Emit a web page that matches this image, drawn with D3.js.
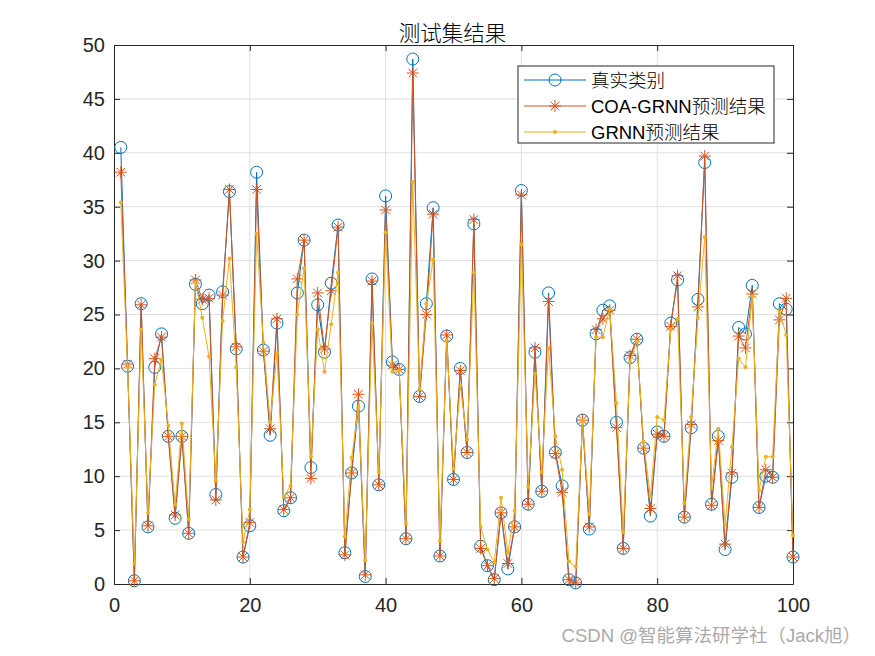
<!DOCTYPE html>
<html>
<head>
<meta charset="utf-8">
<script src="https://cdn.jsdelivr.net/npm/d3@7"></script>
<style>
  body { margin: 0; background: #fff; }
  text { font-family: Arial, "Liberation Sans", "Noto Sans CJK SC", sans-serif; }
</style>
</head>
<body>
<div id="chart"></div>
<script>
// test set results, sample index 1..100
var trueVals = [40.5,20.2,0.3,26.0,5.3,20.1,23.2,13.7,6.1,13.7,
  4.7,27.8,26.0,26.8,8.3,27.1,36.4,21.8,2.5,5.4,
  38.2,21.7,13.8,24.2,6.8,8.0,27.0,31.9,10.8,25.9,
  21.5,27.9,33.3,2.9,10.3,16.5,0.7,28.3,9.2,36.0,
  20.6,19.9,4.2,48.7,17.4,26.0,34.9,2.6,23.0,9.7,
  20.0,12.2,33.4,3.5,1.7,0.4,6.6,1.4,5.3,36.5,
  7.4,21.5,8.6,27.0,12.2,9.1,0.4,0.1,15.2,5.1,
  23.2,25.4,25.8,15.0,3.3,21.0,22.7,12.6,6.3,14.1,
  13.7,24.2,28.2,6.2,14.5,26.4,39.1,7.4,13.7,3.2,
  9.9,23.8,23.2,27.7,7.1,10.0,9.9,26.0,25.5,2.5];

var coaVals = [38.2,20.4,0.3,25.9,5.4,20.9,22.9,13.7,6.4,13.7,
  4.7,28.2,26.4,26.5,7.8,26.8,36.6,22.0,2.5,5.7,
  36.6,21.6,14.4,24.6,6.9,8.0,28.3,31.9,9.8,27.0,
  21.8,27.2,33.1,2.7,10.3,17.6,0.85,28.1,9.2,34.7,
  20.3,19.9,4.2,47.4,17.4,25.0,34.3,2.6,23.1,9.7,
  19.8,12.2,33.8,3.3,1.7,0.5,6.6,1.9,5.3,36.1,
  7.4,21.9,8.6,26.2,12.1,8.5,0.4,0.1,15.2,5.3,
  23.6,24.6,25.4,14.5,3.3,21.2,22.7,12.6,7.0,13.9,
  13.7,23.9,28.6,6.2,14.8,25.7,39.7,7.3,13.3,3.7,
  10.3,23.0,21.9,26.9,7.1,10.6,9.9,24.5,26.5,2.5];

var grnnVals = [35.4,20.1,1.9,23.6,6.6,18.5,20.8,14.7,7.4,14.9,
  6.0,28.0,24.7,21.1,9.6,24.4,30.2,20.1,3.9,6.9,
  32.5,22.4,15.0,21.4,8.1,9.1,25.0,29.3,11.8,23.6,
  19.7,24.1,28.9,4.4,11.7,16.4,2.2,24.2,10.4,32.6,
  19.7,19.8,5.6,37.3,18.1,26.0,30.1,4.0,22.6,10.7,
  18.4,13.4,28.9,5.3,3.2,2.0,8.0,2.9,6.8,31.5,
  9.0,19.5,10.4,21.9,13.7,10.6,2.1,1.6,15.2,6.5,
  22.9,22.9,25.5,16.8,4.8,20.6,22.5,13.2,8.1,15.5,
  15.2,23.6,24.6,7.5,15.5,24.7,32.2,8.9,14.4,5.5,
  12.7,20.9,20.1,26.7,8.7,11.8,11.8,25.3,23.1,4.5];

var xTicks = [0, 20, 40, 60, 80, 100];
var yTicks = [0, 5, 10, 15, 20, 25, 30, 35, 40, 45, 50];
var seriesNames = ["真实类别", "COA-GRNN预测结果", "GRNN预测结果"];
var seriesColors = ["#0072BD", "#D95319", "#EDB120"];

var W = 875, H = 656;
var margin = {top: 45, right: 82, bottom: 72, left: 114},
    width = W - margin.left - margin.right,
    height = H - margin.top - margin.bottom;

var svg = d3.select("#chart").append("svg")
    .attr("width", W).attr("height", H);

var g = svg.append("g")
    .attr("transform", "translate(" + margin.left + "," + margin.top + ")");

var xScale = d3.scaleLinear().domain([0, 100]).range([0, width]);
var yScale = d3.scaleLinear().domain([0, 50]).range([height, 0]);

// grid
g.append("g").selectAll("line").data(xTicks.slice(1, -1)).enter().append("line")
  .attr("x1", d => xScale(d)).attr("x2", d => xScale(d))
  .attr("y1", 0).attr("y2", height)
  .attr("stroke", "#dfdfdf").attr("stroke-width", 1);
g.append("g").selectAll("line").data(yTicks.slice(1, -1)).enter().append("line")
  .attr("y1", d => yScale(d)).attr("y2", d => yScale(d))
  .attr("x1", 0).attr("x2", width)
  .attr("stroke", "#dfdfdf").attr("stroke-width", 1);

// axes, ticks inward on all four sides
var axColor = "#262626";
function styleAxis(sel) {
  sel.select(".domain").attr("stroke", axColor);
  sel.selectAll(".tick line").attr("stroke", axColor);
  sel.selectAll(".tick text").attr("fill", axColor).style("font-size", "20px")
    .style("font-family", "Arial, 'Liberation Sans', sans-serif");
}
g.append("g").attr("transform", "translate(0," + height + ")")
  .call(d3.axisBottom(xScale).tickValues(xTicks).tickSizeInner(-6).tickSizeOuter(0).tickPadding(14))
  .call(styleAxis);
g.append("g")
  .call(d3.axisLeft(yScale).tickValues(yTicks).tickSizeInner(-6).tickSizeOuter(0).tickPadding(9))
  .call(styleAxis);
g.append("g")
  .call(d3.axisTop(xScale).tickValues(xTicks).tickSizeInner(-6).tickSizeOuter(0).tickFormat(""))
  .call(styleAxis);
g.append("g").attr("transform", "translate(" + width + ",0)")
  .call(d3.axisRight(yScale).tickValues(yTicks).tickSizeInner(-6).tickSizeOuter(0).tickFormat(""))
  .call(styleAxis);

var line = d3.line().x((d, i) => xScale(i + 1)).y(d => yScale(d));

var allSeries = [trueVals, coaVals, grnnVals];

// marker drawers
function drawCircle(sel, color) {
  sel.append("circle").attr("r", 6).attr("fill", "none")
    .attr("stroke", color).attr("stroke-width", 1);
}
function drawStar(sel, color) {
  var s = 6, d = s * 0.72;
  var p = "M" + (-s) + ",0L" + s + ",0M0," + (-s) + "L0," + s +
          "M" + (-d) + "," + (-d) + "L" + d + "," + d +
          "M" + (-d) + "," + d + "L" + d + "," + (-d);
  sel.append("path").attr("d", p).attr("fill", "none")
    .attr("stroke", color).attr("stroke-width", 1);
}
function drawDot(sel, color) {
  sel.append("circle").attr("r", 2).attr("fill", color);
}
var markers = [drawCircle, drawStar, drawDot];

allSeries.forEach(function(vals, k) {
  g.append("path").datum(vals)
    .attr("d", line).attr("fill", "none")
    .attr("stroke", seriesColors[k]).attr("stroke-width", 1);
  var pts = g.append("g").selectAll("g").data(vals).enter().append("g")
    .attr("transform", (d, i) => "translate(" + xScale(i + 1) + "," + yScale(d) + ")");
  markers[k](pts, seriesColors[k]);
});

// title
svg.append("text").attr("x", margin.left + width / 2 - 1).attr("y", 41)
  .attr("text-anchor", "middle").attr("fill", "#000")
  .style("font-size", "21.5px").style("font-family", "'Noto Sans CJK SC', sans-serif")
  .style("font-weight", 300)
  .text("测试集结果");

// legend
var lg = svg.append("g").attr("transform", "translate(518,66)");
lg.append("rect").attr("width", 256).attr("height", 77)
  .attr("fill", "#fff").attr("stroke", axColor).attr("stroke-width", 1);
seriesNames.forEach(function(name, k) {
  var yy = 14 + k * 26;
  lg.append("line").attr("x1", 6).attr("x2", 68).attr("y1", yy).attr("y2", yy)
    .attr("stroke", seriesColors[k]).attr("stroke-width", 1);
  var m = lg.append("g").attr("transform", "translate(37," + yy + ")");
  markers[k](m, seriesColors[k]);
  lg.append("text").attr("x", 73).attr("y", yy + 6.5).attr("fill", "#000")
    .style("font-size", "18.5px").style("font-weight", 300).text(name);
});

// watermark
svg.append("text").attr("x", 861).attr("y", 642).attr("text-anchor", "end")
  .attr("fill", "#aaaaaa")
  .style("font-size", "18.5px").text("CSDN @智能算法研学社（Jack旭）");
</script>
</body>
</html>
